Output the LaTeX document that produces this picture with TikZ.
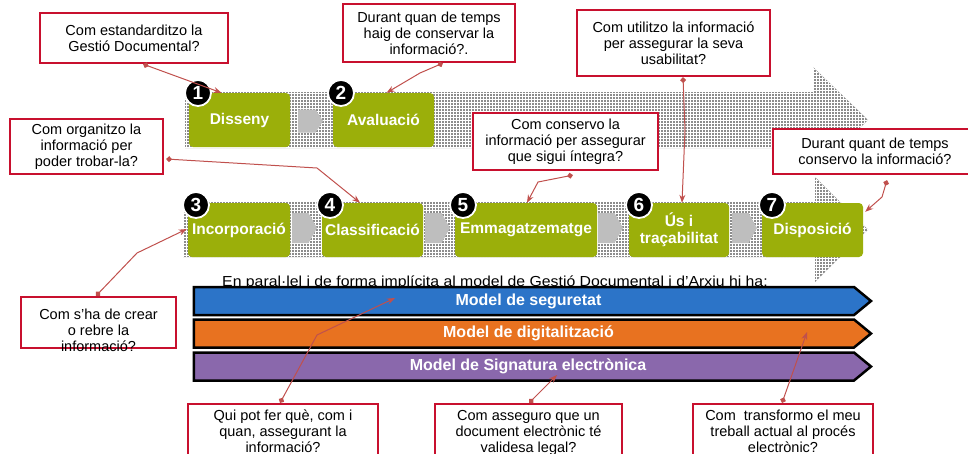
\documentclass[tikz,border=0pt]{standalone}
\usepackage{fontspec}
\setmainfont{Liberation Sans}
\usetikzlibrary{shapes.symbols,arrows.meta,calc,patterns}
\definecolor{olivegr}{RGB}{155,175,10}
\definecolor{qred}{RGB}{200,16,46}
\definecolor{lnk}{RGB}{192,80,77}
\definecolor{bblue}{RGB}{44,116,200}
\definecolor{borange}{RGB}{232,114,32}
\definecolor{bpurple}{RGB}{138,104,172}
\definecolor{arrgray}{RGB}{190,190,190}
\begin{document}
\begin{tikzpicture}[x=1pt,y=-1pt,
 stage/.style={fill=olivegr, rounded corners=4pt, minimum height=54pt, text=white, font=\fontsize{15.5}{17}\selectfont\bfseries, align=center, inner sep=1pt},
 num/.style={circle, fill=black, draw=white, line width=1.8pt, minimum size=26pt, inner sep=0pt, text=white, font=\fontsize{19}{19}\selectfont\bfseries},
 smallarr/.style={fill=arrgray},
 band/.style={signal, signal to=east, signal pointer angle=79, draw=black, line width=2.5pt, minimum width=677pt, minimum height=28pt, inner sep=0pt, text=white, font=\fontsize{16}{17}\selectfont\bfseries},
 qbox/.style={draw=qred, line width=2.2pt, fill=white, align=center, inner sep=0pt, font=\fontsize{14.5}{16}\selectfont},
 qtext/.style={align=center, inner sep=0pt, font=\fontsize{14.5}{16}\selectfont},
 link/.style={draw=lnk, line width=1pt, {Diamond[length=6pt,width=6pt]}-{Stealth[length=8pt,width=6pt]}},
 bigarrow/.style={fill=black!45, postaction={pattern=grid, pattern color=white}}
]
\useasboundingbox (0,0) rectangle (968,453);
% background process arrows
\fill[bigarrow] (185,92) -- (813,92) -- (813,67) -- (868,120) -- (813,173) -- (813,148) -- (185,148) -- cycle;
\fill[bigarrow] (183,202) -- (815,202) -- (815,177) -- (868,229.5) -- (815,282) -- (815,257) -- (183,257) -- cycle;
% small arrows
\fill[smallarr, shift={(310.5,121)}] (-12.5,-11.5) -- (5,-11.5) -- (12.5,0) -- (5,11.5) -- (-12.5,11.5) -- cycle;
\foreach \cx in {304.5, 437.5, 610.5, 744.5}
  \fill[smallarr, shift={(\cx,228)}] (-12.5,-15) -- (4,-15) -- (12.5,0) -- (4,15) -- (-12.5,15) -- cycle;
% stages
\node[stage, minimum width=101pt] (dis) at (239.5,120) {Disseny};
\node[stage, minimum width=101pt] (ava) at (383.5,120) {Avaluació};
\node[stage, minimum width=102pt] (inc) at (239,230) {Incorporació};
\node[stage, minimum width=101pt] (cla) at (372.5,230) {Classificació};
\node[stage, minimum width=142pt] (emm) at (526,230) {Emmagatzematge};
\node[stage, minimum width=100pt] (us) at (679,230) {Ús i\\traçabilitat};
\node[stage, minimum width=101pt] (dsp) at (812.5,230) {Disposició};
% numbers
\node[num] (n1) at (198,93) {1};
\node[num] (n2) at (341,93) {2};
\node[num] (n3) at (196,205) {3};
\node[num] (n4) at (330,205) {4};
\node[num] (n5) at (463,205) {5};
\node[num] (n6) at (639,205) {6};
\node[num] (n7) at (772,205) {7};
% parallel text and bands
\node[font=\fontsize{14.5}{16}\selectfont, anchor=base, inner sep=0pt] (par) at (495,286.5) {\scalebox{1.09}[1]{En paral·lel i de forma implícita al model de Gestió Documental i d’Arxiu hi ha:}};
\node[band, fill=bblue] (seg) at (524,301) {\hspace{9pt}Model de seguretat};
\node[band, fill=borange] (dig) at (524,333.5) {\hspace{9pt}Model de digitalització};
\node[band, fill=bpurple] (sig) at (524,366.5) {\hspace{8pt}Model de Signatura electrònica};
% question boxes
\node[qbox, minimum width=188pt, minimum height=50pt] (qA) at (134,38) {Com estandarditzo la\\Gestió Documental?};
\node[qbox, minimum width=172pt, minimum height=58pt] (qB) at (429,33) {Durant quan de temps\\haig de conservar la\\informació?.};
\node[qbox, minimum width=193pt, minimum height=66pt] (qC) at (673.5,43) {Com utilitzo la informació\\per assegurar la seva\\usabilitat?};
\node[qbox, minimum width=153pt, minimum height=55pt] (qD) at (86.5,146.5) {Com organitzo la\\informació per\\poder trobar-la?};
\node[qbox, minimum width=185pt, minimum height=57pt] (qE) at (565.5,141.5) {Com conservo la\\informació per assegurar\\que sigui íntegra?};
\node[qbox, minimum width=204pt, minimum height=45pt] (qF) at (875,151.5) {Durant quant de temps\\conservo la informació?};
\node[qbox, minimum width=155pt, minimum height=51pt] (qG) at (98.5,322.5) {};
\node[qtext, anchor=north] (tG) at (98.5,308.5) {Com s’ha de crear\\o rebre la\\informació?};
\node[qbox, minimum width=190pt, minimum height=60pt, anchor=north] (qH) at (283,403) {};
\node[qtext, anchor=north] (tH) at (283,410) {Qui pot fer què, com i\\quan, assegurant la\\informació?};
\node[qbox, minimum width=187pt, minimum height=60pt, anchor=north] (qI) at (528.5,403) {};
\node[qtext, anchor=north] (tI) at (528.5,410) {Com asseguro que un\\document electrònic té\\validesa legal?};
\node[qbox, minimum width=180pt, minimum height=60pt, anchor=north] (qJ) at (783,403) {};
\node[qtext, anchor=north] (tJ) at (783,410) {Com~ transformo el meu\\treball actual al procés\\electrònic?};
% links
\draw[link] ($(qA.south)+(9,0)$) -- ($(dis.north)+(-18,0)$);
\draw[link] ($(qB.south)+(14,0)$) -- (420,73) -- ($(ava.north)+(3,0)$);
\draw[link] ($(qC.south)+(9.5,0)$) -- (685,130) -- ($(us.north)+(3,0)$);
\draw[link] ($(qD.east)+(2,12.5)$) -- (317,168) -- ($(cla.north)+(-12.5,0)$);
\draw[link] ($(qE.south)+(7.5,4)$) -- (538,182) -- ($(emm.north)+(1,0)$);
\draw[link] ($(qF.south)+(12,5)$) -- (882,197) -- ($(dsp.north east)+(2,9)$);
\draw[link] ($(qG.north)+(-2.5,0)$) -- (137,253) -- ($(inc.west)+(-1,-1)$);
\draw[link] ($(qH.north)+(-3,0)$) -- (317,335) -- ($(seg.center)+(-129,-3)$);
\draw[link] ($(qI.north)+(0.5,0)$) -- ($(sig.center)+(33,8.5)$);
\draw[link] ($(qJ.north)+(-1,0)$) -- ($(dig.center)+(283,-1.5)$);
\end{tikzpicture}
\end{document}
